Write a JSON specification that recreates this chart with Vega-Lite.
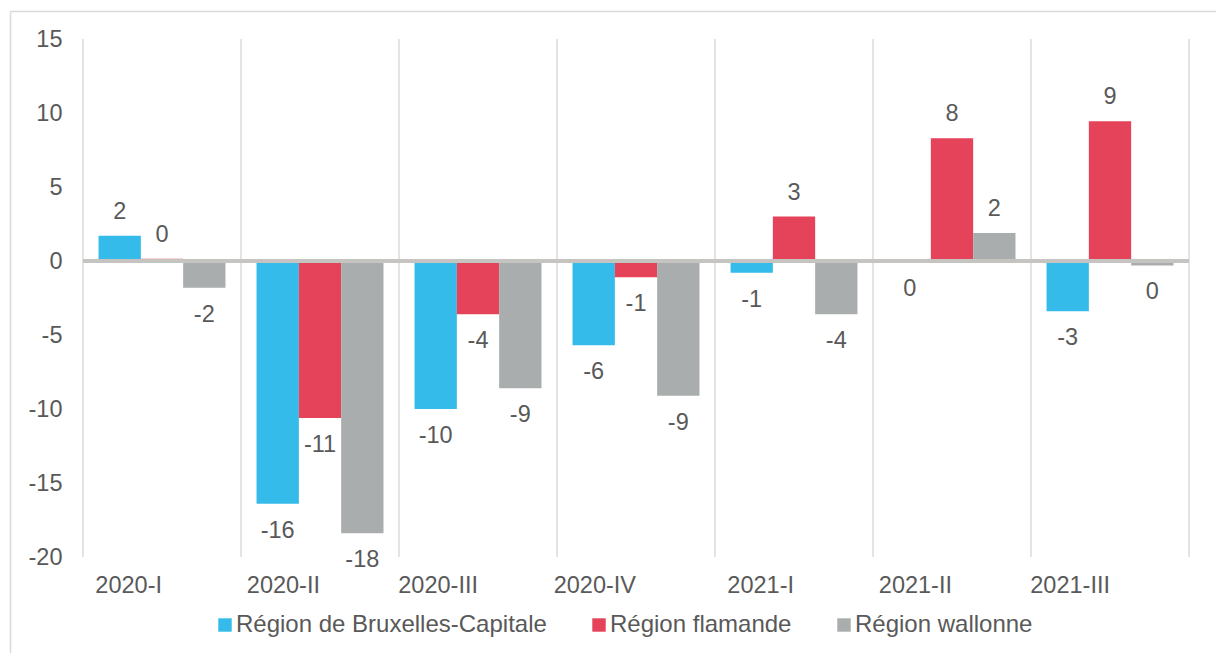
{
  "$schema": "https://vega.github.io/schema/vega-lite/v6.json",
  "width": 1206,
  "height": 642,
  "autosize": {"type": "none"},
  "padding": {"left": 10, "top": 11, "right": 0, "bottom": 0},
  "background": "white",
  "config": {
    "view": {"stroke": null},
    "font": "Liberation Sans",
    "axis": {"title": null},
    "locale": {"number": {"decimal": ".", "thousands": ",", "grouping": [3], "currency": ["", ""], "minus": "-"}}
  },
  "data": {
    "values": [
      {"category": "2020-I", "region": "Région de Bruxelles-Capitale", "value": 1.7},
      {"category": "2020-I", "region": "Région flamande", "value": 0.15},
      {"category": "2020-I", "region": "Région wallonne", "value": -1.8},
      {"category": "2020-II", "region": "Région de Bruxelles-Capitale", "value": -16.4},
      {"category": "2020-II", "region": "Région flamande", "value": -10.6},
      {"category": "2020-II", "region": "Région wallonne", "value": -18.4},
      {"category": "2020-III", "region": "Région de Bruxelles-Capitale", "value": -10.0},
      {"category": "2020-III", "region": "Région flamande", "value": -3.6},
      {"category": "2020-III", "region": "Région wallonne", "value": -8.6},
      {"category": "2020-IV", "region": "Région de Bruxelles-Capitale", "value": -5.7},
      {"category": "2020-IV", "region": "Région flamande", "value": -1.1},
      {"category": "2020-IV", "region": "Région wallonne", "value": -9.1},
      {"category": "2021-I", "region": "Région de Bruxelles-Capitale", "value": -0.8},
      {"category": "2021-I", "region": "Région flamande", "value": 3.0},
      {"category": "2021-I", "region": "Région wallonne", "value": -3.6},
      {"category": "2021-II", "region": "Région de Bruxelles-Capitale", "value": -0.05},
      {"category": "2021-II", "region": "Région flamande", "value": 8.3},
      {"category": "2021-II", "region": "Région wallonne", "value": 1.9},
      {"category": "2021-III", "region": "Région de Bruxelles-Capitale", "value": -3.4},
      {"category": "2021-III", "region": "Région flamande", "value": 9.45},
      {"category": "2021-III", "region": "Région wallonne", "value": -0.3}
    ]
  },
  "layer": [
    {
      "transform": [{"filter": "datum.region === 'Région flamande'"}],
      "mark": {"type": "rule", "color": "#dadada", "strokeWidth": 1.5},
      "encoding": {
        "x": {"field": "category", "type": "nominal", "bandPosition": 0},
        "y": {"datum": 15},
        "y2": {"datum": -20}
      }
    },
    {
      "transform": [{"filter": "datum.region === 'Région flamande' && datum.category === '2021-III'"}],
      "mark": {"type": "rule", "color": "#dadada", "strokeWidth": 1.5},
      "encoding": {
        "x": {"field": "category", "type": "nominal", "bandPosition": 1},
        "y": {"datum": 15},
        "y2": {"datum": -20}
      }
    },
    {
      "mark": {"type": "bar"},
      "encoding": {
        "x": {
          "field": "category",
          "type": "nominal",
          "scale": {
            "domain": ["2020-I", "2020-II", "2020-III", "2020-IV", "2021-I", "2021-II", "2021-III"],
            "paddingInner": 0,
            "paddingOuter": 0.3165,
            "align": 0.73
          },
          "axis": {
            "orient": "top",
            "domain": true,
            "domainColor": "#d9d9d9",
            "domainWidth": 1.5,
            "ticks": false,
            "tickSize": 0,
            "labelPadding": -574,
            "labelBaseline": "middle",
            "labelAngle": 0,
            "labelFontSize": 23.5,
            "labelColor": "#595959",
            "grid": false,
            "title": null
          }
        },
        "xOffset": {
          "field": "region",
          "type": "nominal",
          "scale": {
            "domain": ["Région de Bruxelles-Capitale", "Région flamande", "Région wallonne"],
            "paddingInner": 0,
            "paddingOuter": 0.367
          }
        },
        "y": {
          "field": "value",
          "type": "quantitative",
          "scale": {"domain": [-26.486, 16.892], "nice": false, "zero": false},
          "axis": {
            "orient": "left",
            "values": [-20, -15, -10, -5, 0, 5, 10, 15],
            "domain": true,
            "domainColor": "#d9d9d9",
            "domainWidth": 1.5,
            "ticks": false,
            "tickSize": 0,
            "labelPadding": -52,
            "labelFontSize": 23.5,
            "labelColor": "#595959",
            "grid": false,
            "title": null
          }
        },
        "color": {
          "field": "region",
          "type": "nominal",
          "scale": {
            "domain": ["Région de Bruxelles-Capitale", "Région flamande", "Région wallonne"],
            "range": ["#34bbea", "#e5435a", "#a9adad"]
          },
          "legend": {
            "orient": "none",
            "legendX": 203,
            "legendY": 602,
            "direction": "horizontal",
            "title": null,
            "padding": 0,
            "symbolType": "square",
            "symbolSize": 180,
            "symbolStrokeWidth": 0,
            "labelFontSize": 24,
            "labelColor": "#595959",
            "labelOffset": -1,
            "columnPadding": 40,
            "labelLimit": 400
          }
        }
      }
    },
    {
      "transform": [{"filter": "datum.region === 'Région flamande'"}],
      "mark": {"type": "rect", "stroke": "#c6c4c1", "strokeWidth": 4, "fill": null},
      "encoding": {
        "x": {"field": "category", "type": "nominal"},
        "y": {"datum": 0},
        "y2": {"datum": 0}
      }
    },
    {
      "transform": [{"filter": "datum.value >= 0"}],
      "mark": {"type": "text", "fontSize": 23.5, "color": "#595959", "baseline": "middle", "dy": -24},
      "encoding": {
        "x": {"field": "category", "type": "nominal"},
        "xOffset": {"field": "region", "type": "nominal"},
        "y": {"field": "value", "type": "quantitative"},
        "text": {"field": "value", "type": "quantitative", "format": ".0f"}
      }
    },
    {
      "transform": [{"filter": "datum.value < 0"}],
      "mark": {"type": "text", "fontSize": 23.5, "color": "#595959", "baseline": "middle", "dy": 27},
      "encoding": {
        "x": {"field": "category", "type": "nominal"},
        "xOffset": {"field": "region", "type": "nominal"},
        "y": {"field": "value", "type": "quantitative"},
        "text": {"field": "value", "type": "quantitative", "format": ".0f"}
      }
    }
  ]
}
